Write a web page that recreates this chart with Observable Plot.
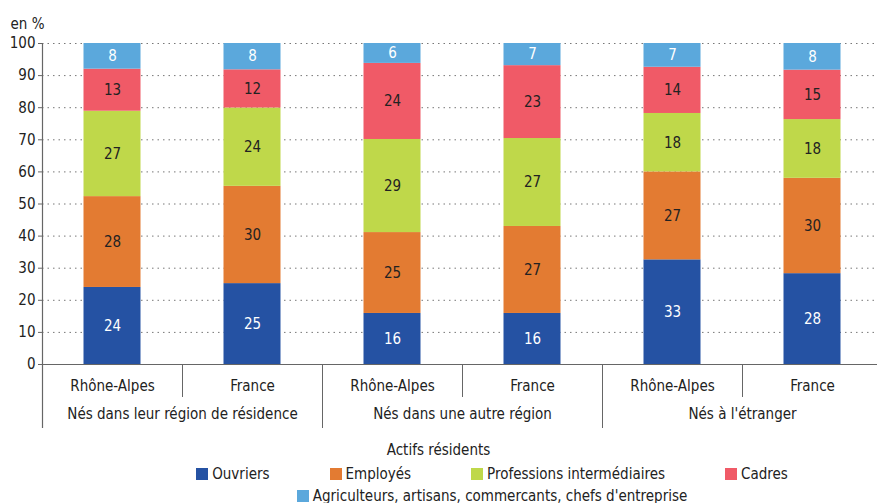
<!DOCTYPE html>
<html>
<head>
<meta charset="utf-8">
<script src="https://cdn.jsdelivr.net/npm/d3@7"></script>
<script src="https://cdn.jsdelivr.net/npm/@observablehq/plot@0.6"></script>
<style>
  html, body { margin: 0; padding: 0; background: #fff; overflow: hidden; }
  body { width: 877px; height: 503px; font-family: "DejaVu Sans Condensed", "DejaVu Sans", sans-serif; font-stretch: condensed; color: #222; }
  #legend-title { text-align: center; font-size: 15px; line-height: 20px; margin-top: 5px; }
  #legend { position: relative; left: 152px; width: 680px; margin-top: 3px; display: flex; flex-wrap: wrap; justify-content: center; column-gap: 60px; font-size: 15px; line-height: 22px; }
  .item { display: flex; align-items: center; white-space: nowrap; }
  .sw { width: 12px; height: 12px; margin-right: 4px; }
</style>
</head>
<body>
<div id="chart"></div>
<div id="legend-title"></div>
<div id="legend"></div>
<script>
const groups = ["Nés dans leur région de résidence", "Nés dans une autre région", "Nés à l'étranger"];
const zones = ["Rhône-Alpes", "France"];
const categories = ["Ouvriers", "Employés", "Professions intermédiaires", "Cadres", "Agriculteurs, artisans, commercants, chefs d'entreprise"];
const colors = ["#2552a3", "#e37b32", "#bfd84a", "#f05a67", "#5ba8dc"];
const whiteLabels = ["Ouvriers", "Agriculteurs, artisans, commercants, chefs d'entreprise"];
const yTicks = [0, 10, 20, 30, 40, 50, 60, 70, 80, 90, 100];
const legendTitle = "Actifs résidents";
const yUnit = "en %";

// values per bar: [RA-leur région, FR-leur région, RA-autre région, FR-autre région, RA-étranger, FR-étranger]
const ouvriers     = [24.0, 25.2, 15.9, 15.9, 32.6, 28.3];
const employes     = [28.3, 30.3, 25.2, 27.1, 27.4, 29.7];
const professions  = [26.6, 24.4, 29.0, 27.4, 18.2, 18.3];
const cadres       = [13.1, 11.9, 23.7, 22.7, 14.4, 15.4];
const agriculteurs = [ 8.0,  8.2,  6.2,  6.9,  7.4,  8.3];
const series = [ouvriers, employes, professions, cadres, agriculteurs];

const keys = groups.flatMap(g => zones.map(z => g + "|" + z));
const rows = keys.flatMap((k, i) => categories.map((c, j) => ({key: k, category: c, value: series[j][i]})));

const font = "'DejaVu Sans Condensed', 'DejaVu Sans', sans-serif";
const fs = 15;
const axisColor = "#666";
const half = 70;

const chart = Plot.plot({
  width: 877,
  height: 435,
  marginTop: 43,
  marginBottom: 71,
  marginLeft: 42,
  marginRight: -5,
  x: {domain: keys, padding: 0, axis: null},
  y: {domain: [0, 100], axis: null},
  color: {domain: categories, range: colors},
  style: {fontFamily: font, fontSize: fs + "px", fontStretch: "condensed", color: "#222", background: "white", overflow: "visible"},
  marks: [
    Plot.gridY({ticks: yTicks.slice(1), stroke: "#777", strokeOpacity: 1, strokeDasharray: "1.5,4"}),
    Plot.barY(rows, Plot.stackY({x: "key", y: "value", fill: "category", order: categories, insetLeft: 41.5, insetRight: 41.5})),
    Plot.text(rows, Plot.stackY({x: "key", y: "value", z: "category", order: categories, text: d => whiteLabels.includes(d.category) ? Math.round(d.value) : "", fill: "white", fontSize: fs})),
    Plot.text(rows, Plot.stackY({x: "key", y: "value", z: "category", order: categories, text: d => whiteLabels.includes(d.category) ? "" : Math.round(d.value), fill: "#222", fontSize: fs})),
    Plot.ruleY([0], {stroke: axisColor, strokeWidth: 1.2}),
    Plot.ruleX([keys[0]], {dx: -half, y1: 0, y2: 100, stroke: axisColor, strokeWidth: 1.2}),
    Plot.axisY({ticks: yTicks, tickSize: 4, tickPadding: 3, stroke: axisColor, label: null, fontSize: fs, fill: "#222"}),
    Plot.axisX({tickSize: 0, tickPadding: 16, tickFormat: k => k.split("|")[1], label: null, fontSize: fs, fill: "#222"}),
    Plot.axisX({ticks: keys.filter((k, i) => i % 2 === 0), tickSize: 33, dx: half, text: null, label: null, stroke: axisColor}),
    Plot.axisX({ticks: keys.filter((k, i) => i % 2 === 1), tickSize: 64, dx: half, text: null, label: null, stroke: axisColor}),
    Plot.axisX({ticks: [keys[0]], tickSize: 64, dx: -half, text: null, label: null, stroke: axisColor, strokeWidth: 1.2}),
    Plot.text(groups, {x: (d, i) => keys[2 * i], dx: half, frameAnchor: "bottom", dy: 54, text: d => d, fontSize: fs, fill: "#222"}),
    Plot.text([yUnit], {frameAnchor: "top-left", dx: -32, dy: -25, textAnchor: "start", text: d => d, fontSize: fs, fill: "#222"})
  ]
});
document.getElementById("chart").appendChild(chart);

document.getElementById("legend-title").textContent = legendTitle;
const legend = d3.select("#legend");
categories.forEach((c, i) => {
  const item = legend.append("div").attr("class", "item");
  item.append("div").attr("class", "sw").style("background", colors[i]);
  item.append("span").text(c);
});
</script>
</body>
</html>
